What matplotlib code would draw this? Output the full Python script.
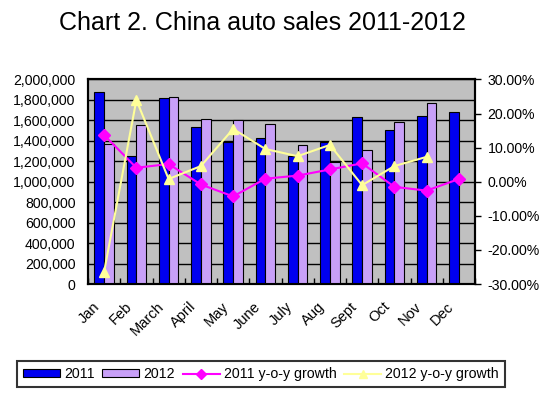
import matplotlib
matplotlib.use("Agg")
import matplotlib.pyplot as plt
import numpy as np
from matplotlib.ticker import FuncFormatter, FixedLocator
from matplotlib.lines import Line2D
from matplotlib.patches import Patch
from matplotlib.transforms import ScaledTranslation

plt.rcParams['font.family'] = ['Liberation Sans', 'DejaVu Sans']

months = ["Jan", "Feb", "March", "April", "May", "June", "July", "Aug", "Sept", "Oct", "Nov", "Dec"]
sales_2011 = [1876000, 1255000, 1815000, 1532000, 1385000, 1428000, 1255000, 1389000, 1633000, 1509000, 1639000, 1681000]
sales_2012 = [1366000, 1558000, 1828000, 1613000, 1603000, 1561000, 1359000, 1195000, 1314000, 1584000, 1769000, np.nan]
growth_2011 = [13.7, 4.1, 5.2, -0.8, -4.3, 0.9, 1.8, 3.6, 5.4, -1.5, -2.6, 0.8]
growth_2012 = [-26.4, 24.0, 0.8, 4.6, 15.5, 9.6, 7.5, 10.8, -1.0, 4.6, 7.3]

fig = plt.figure(figsize=(5.5, 3.99), dpi=100)
ax = fig.add_axes([88/550, 1-284/399, (475-88)/550, (284-79.5)/399])
ax.set_facecolor('#C0C0C0')

x = np.arange(len(months))
w = 0.3
ax.bar(x - w/2, sales_2011, w, color='#0000F0', edgecolor='black', linewidth=0.8, zorder=3)
ax.bar(x + w/2, sales_2012, w, color='#C8A0F8', edgecolor='black', linewidth=0.8, zorder=3)

ax.set_xlim(-0.5, len(months) - 0.5)
ax.set_ylim(0, 2000000)
ax.set_yticks(np.arange(0, 2000001, 200000))
ax.yaxis.set_major_formatter(FuncFormatter(lambda v, p: f"{int(v):,}"))
ax.grid(axis='y', color='black', linewidth=1.0, zorder=1)
ax.set_axisbelow(True)
ax.tick_params(axis='y', length=0, pad=9, labelsize=10.2)

ax.set_xticks(x)
ax.set_xticklabels(months, rotation=45, ha='right', va='top', rotation_mode='anchor', fontsize=10.5)
ax.tick_params(axis='x', which='major', length=0, pad=6)
ax.xaxis.set_minor_locator(FixedLocator(np.arange(-0.5, len(months), 1.0)))
ax.tick_params(axis='x', which='minor', direction='in', length=4, width=1, color='black')
offset = ScaledTranslation(-12/100, -7/100, fig.dpi_scale_trans)
for lab in ax.get_xticklabels():
    lab.set_transform(lab.get_transform() + offset)

for s in ax.spines.values():
    s.set_linewidth(1.5)
    s.set_color('black')

ax2 = ax.twinx()
ax2.set_ylim(-30, 30)
ax2.set_yticks(np.arange(-30, 31, 10))
ax2.yaxis.set_major_formatter(FuncFormatter(lambda v, p: f"{v:.2f}%"))
ax2.tick_params(axis='y', direction='out', length=4, width=1, pad=5, labelsize=10.2)
ax2.plot(x, growth_2011, color='#FF00FF', linewidth=1.5, marker='D', markersize=6,
         markerfacecolor='#FF00FF', markeredgecolor='#FF00FF', zorder=5)
ax2.plot(x[:len(growth_2012)], growth_2012, color='#FFFF99', linewidth=1.5, marker='^', markersize=7,
         markerfacecolor='#FFFF99', markeredgecolor='#FFFF99', zorder=5)
for s in ax2.spines.values():
    s.set_linewidth(1.5)

fig.text(262/550, 1-23/399, "Chart 2. China auto sales 2011-2012", ha='center', va='center', fontsize=18)

handles = [
    Patch(facecolor='#0000F0', edgecolor='black', linewidth=0.8),
    Patch(facecolor='#C8A0F8', edgecolor='black', linewidth=0.8),
    Line2D([], [], color='#FF00FF', linewidth=1.5, marker='D', markersize=5),
    Line2D([], [], color='#FFFF99', linewidth=1.5, marker='^', markersize=6),
]
labels = ["2011", "2012", "2011 y-o-y growth", "2012 y-o-y growth"]
leg = fig.legend(handles, labels, loc='center', bbox_to_anchor=(261/550, 1-374/399), ncol=4,
                 fontsize=10.2, frameon=True, fancybox=False, edgecolor='black',
                 handlelength=2.6, handleheight=0.45, handletextpad=0.3, columnspacing=0.55,
                 borderpad=0.45, borderaxespad=0)
leg.get_frame().set_linewidth(1.5)

fig.savefig("out.png", dpi=100)
